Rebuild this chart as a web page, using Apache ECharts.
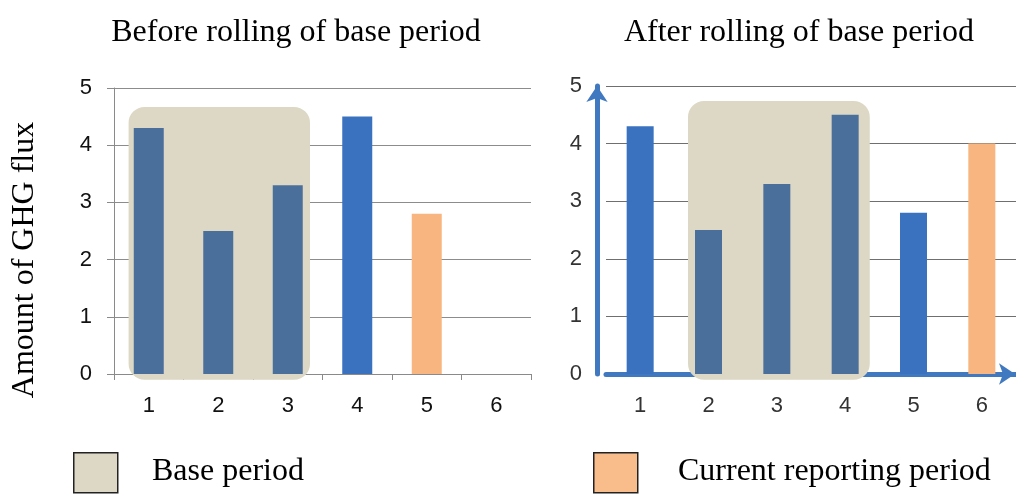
<!DOCTYPE html>
<html>
<head>
<meta charset="utf-8">
<script src="https://cdn.jsdelivr.net/npm/echarts@6/dist/echarts.min.js"></script>
<style>
html,body{margin:0;padding:0;background:#fff;}
#chart{width:1016px;height:496px;}
</style>
</head>
<body>
<div id="chart"></div>
<script>
// ---- data ----
const categories = ['1', '2', '3', '4', '5', '6'];
const beforeValues = [4.3, 2.5, 3.3, 4.5, 2.8, null];
const afterValues = [4.3, 2.5, 3.3, 4.5, 2.8, 4.0];
const beforeKinds = ['base', 'base', 'base', 'other', 'current', 'other'];
const afterKinds = ['other', 'base', 'base', 'base', 'other', 'current'];
// base period band: [first category index, last category index, top value]
const beforeBase = [[0, 2, 4.67]];
const afterBase = [[1, 3, 4.74]];
const yTicks = [0, 1, 2, 3, 4, 5];
const titles = ['Before rolling of base period', 'After rolling of base period'];
const yAxisTitle = 'Amount of GHG flux';
const legendLabels = ['Base period', 'Current reporting period'];

const kindColor = {base: '#4b6f9b', other: '#3a72c0', current: '#f8b57f'};
const baseFill = '#dcd8c5';

const chart = echarts.init(document.getElementById('chart'));

function bandSeries(data, gridIdx, padL, padR) {
  return {
    type: 'custom', xAxisIndex: gridIdx, yAxisIndex: gridIdx, clip: false, z: 1,
    data: data, encode: {x: [0, 1], y: 2}, silent: true,
    renderItem: function (params, api) {
      const band = api.size([1, 0])[0];
      const p0 = api.coord([api.value(0), api.value(2)]);
      const p1 = api.coord([api.value(1), -0.1]);
      const x0 = p0[0] - band * padL;
      const x1 = p1[0] + band * padR;
      return {type: 'rect', shape: {x: x0, y: p0[1], width: x1 - x0, height: p1[1] - p0[1], r: 16},
        style: {fill: baseFill}};
    }
  };
}

function barData(vals, kinds) {
  return vals.map((v, i) => ({value: v, itemStyle: {color: kindColor[kinds[i]]}}));
}

const serif = 'Liberation Serif';
const sans = 'Liberation Sans';

const option = {
  backgroundColor: '#ffffff',
  animation: false,
  title: [
    {text: titles[0], left: 291, top: 12, textAlign: 'center',
      textStyle: {fontFamily: serif, fontSize: 32, fontWeight: 'normal', color: '#000'}},
    {text: titles[1], left: 794, top: 12, textAlign: 'center',
      textStyle: {fontFamily: serif, fontSize: 32, fontWeight: 'normal', color: '#000'}}
  ],
  grid: [
    {left: 114, top: 88, width: 417, height: 286},
    {left: 606, top: 86, width: 416, height: 288}
  ],
  xAxis: [
    {type: 'category', gridIndex: 0, data: categories,
      axisLine: {lineStyle: {color: '#8a8a8a', width: 1}},
      axisTick: {show: true, length: 6, lineStyle: {color: '#8a8a8a'}},
      axisLabel: {fontFamily: sans, fontSize: 22, color: '#111', margin: 21}},
    {type: 'category', gridIndex: 1, data: categories, offset: 5,
      axisLine: {lineStyle: {color: '#4079c0', width: 5}, symbol: ['none', 'arrow'], symbolSize: [16, 16], symbolOffset: [0, -1]},
      axisTick: {show: false},
      axisLabel: {fontFamily: sans, fontSize: 22, color: '#333', margin: 16}}
  ],
  yAxis: [
    {type: 'value', gridIndex: 0, min: 0, max: 5, interval: 1,
      axisLine: {show: true, lineStyle: {color: '#8a8a8a'}},
      axisTick: {show: true, length: 7, lineStyle: {color: '#8a8a8a'}},
      splitLine: {lineStyle: {color: '#8c8c8c'}},
      axisLabel: {fontFamily: sans, fontSize: 22, color: '#111', margin: 22}},
    {type: 'value', gridIndex: 1, min: 0, max: 5, interval: 1, offset: 9,
      axisLine: {show: true, lineStyle: {color: '#4079c0', width: 5}, symbol: ['none', 'arrow'], symbolSize: [16, 16], symbolOffset: [0, 0]},
      axisTick: {show: false},
      splitLine: {lineStyle: {color: '#6f6f6f'}},
      axisLabel: {fontFamily: sans, fontSize: 22, color: '#333', margin: 15}}
  ],
  series: [
    bandSeries(beforeBase, 0, 0.29, 0.32),
    bandSeries(afterBase, 1, 0.30, 0.36),
    {type: 'bar', xAxisIndex: 0, yAxisIndex: 0, barWidth: 30, z: 3, data: barData(beforeValues, beforeKinds)},
    {type: 'bar', xAxisIndex: 1, yAxisIndex: 1, barWidth: 27, z: 3, data: barData(afterValues, afterKinds)}
  ],
  graphic: [
    {type: 'text', x: 25, y: 260, rotation: Math.PI / 2,
      style: {text: yAxisTitle, fontFamily: serif, fontSize: 32, fill: '#000', align: 'center', verticalAlign: 'middle'}},
    {type: 'rect', left: 73, top: 452, shape: {width: 44, height: 40},
      style: {fill: baseFill, stroke: '#222', lineWidth: 1.5}},
    {type: 'text', left: 152, top: 456, style: {text: legendLabels[0], fontFamily: serif, fontSize: 32, fill: '#000'}},
    {type: 'rect', left: 593, top: 452, shape: {width: 44, height: 40},
      style: {fill: '#f9bd8c', stroke: '#222', lineWidth: 1.5}},
    {type: 'text', left: 678, top: 456, style: {text: legendLabels[1], fontFamily: serif, fontSize: 32, fill: '#000'}}
  ]
};
chart.setOption(option);
</script>
</body>
</html>
